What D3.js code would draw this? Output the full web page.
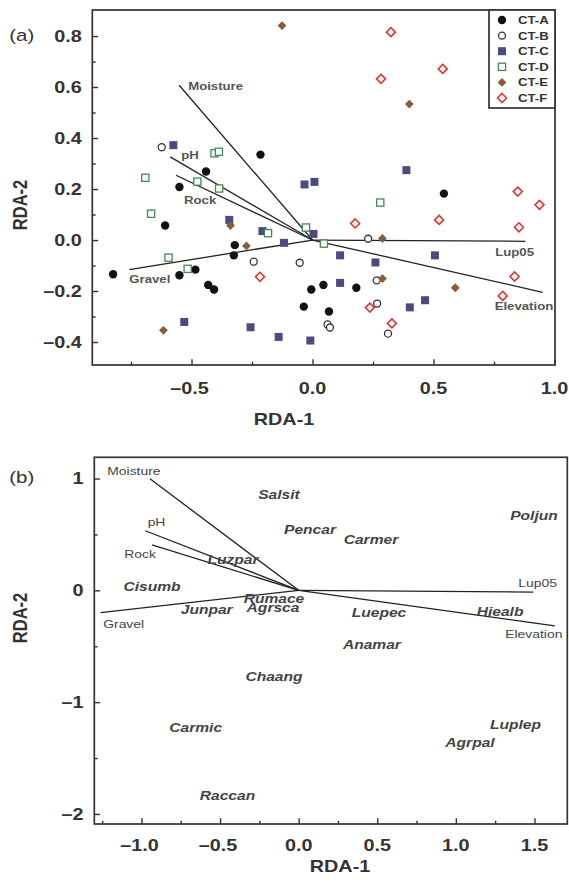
<!DOCTYPE html>
<html><head><meta charset="utf-8">
<script src="https://cdnjs.cloudflare.com/ajax/libs/d3/7.8.5/d3.min.js"></script>
<style>body{margin:0;background:#fff}svg{display:block}</style>
</head><body><svg id="c" width="569" height="887"></svg>
<script>
// ---------- DATA ----------
const groups = ["CT-A", "CT-B", "CT-C", "CT-D", "CT-E", "CT-F"];
const ctA = [[-0.215,0.335],[-0.44,0.269],[-0.55,0.208],[-0.609,0.057],[-0.321,-0.02],[-0.325,-0.06],
  [-0.824,-0.134],[-0.55,-0.138],[-0.484,-0.116],[-0.431,-0.176],[-0.407,-0.194],[-0.005,-0.194],
  [0.045,-0.176],[-0.036,-0.261],[0.068,-0.28],[0.543,0.182],[0.181,-0.187]];
const ctB = [[-0.623,0.364],[-0.243,-0.085],[-0.053,-0.089],[0.062,-0.331],[0.072,-0.343],
  [0.23,0.005],[0.265,-0.158],[0.267,-0.249],[0.312,-0.367]];
const ctC = [[-0.575,0.372],[-0.033,0.218],[0.008,0.228],[-0.344,0.079],[-0.207,0.035],[-0.118,-0.011],
  [0.004,0.024],[-0.53,-0.321],[-0.256,-0.342],[-0.14,-0.38],[-0.009,-0.394],[0.388,0.274],
  [0.114,-0.06],[0.26,-0.088],[0.506,-0.06],[0.114,-0.168],[0.402,-0.264],[0.465,-0.236]];
const ctD = [[-0.691,0.244],[-0.405,0.34],[-0.387,0.346],[-0.476,0.229],[-0.386,0.202],[-0.667,0.103],
  [-0.184,0.027],[-0.595,-0.069],[-0.516,-0.113],[-0.027,0.049],[0.047,-0.014],[0.28,0.147]];
const ctE = [[-0.126,0.841],[0.4,0.533],[-0.339,0.057],[-0.273,-0.023],[-0.616,-0.354],
  [0.289,0.006],[0.289,-0.151],[0.59,-0.187]];
const ctF = [[0.324,0.815],[0.538,0.671],[0.283,0.632],[0.848,0.19],[-0.217,-0.144],[0.938,0.138],
  [0.523,0.079],[0.176,0.065],[0.853,0.05],[0.835,-0.143],[0.786,-0.219],[0.237,-0.265],[0.328,-0.327]];

const envNames = ["Moisture", "pH", "Rock", "Gravel", "Lup05", "Elevation"];
const envA = [[-0.551,0.607],[-0.588,0.326],[-0.564,0.254],[-0.757,-0.116],[0.879,-0.005],[0.951,-0.205]];
const envB = [[-0.946,0.998],[-0.976,0.533],[-0.933,0.407],[-1.26,-0.199],[1.493,-0.016],[1.63,-0.318]];

const speciesNames = ["Salsit","Pencar","Carmer","Poljun","Luzpar","Cisumb","Junpar","Rumace","Agrsca",
  "Luepec","Hiealb","Anamar","Chaang","Carmic","Raccan","Luplep","Agrpal"];
const speciesX = [-0.125,0.072,0.46,1.497,-0.418,-0.933,-0.585,-0.157,-0.163,0.511,1.281,0.466,-0.157,-0.655,-0.453,1.379,1.09];
const speciesY = [0.861,0.548,0.458,0.667,0.279,0.034,-0.168,-0.07,-0.15,-0.195,-0.19,-0.479,-0.772,-1.228,-1.831,-1.195,-1.363];

const xTicksA = [-0.5, 0, 0.5, 1.0];
const xMinorA = [-0.75, -0.25, 0.25, 0.75];
const yTicksA = [-0.4, -0.2, 0, 0.2, 0.4, 0.6, 0.8];
const yMinorA = [-0.3, -0.1, 0.1, 0.3, 0.5, 0.7];
const xTicksB = [-1.0, -0.5, 0, 0.5, 1.0, 1.5];
const xMinorB = [-1.25, -0.75, -0.25, 0.25, 0.75, 1.25];
const yTicksB = [-2, -1, 0, 1];
const yMinorB = [-1.5, -0.5, 0.5];

// ---------- LAYOUT / STYLE ----------
const SX = 1.2; // horizontal text stretch seen in the reference
const FONT = "'Liberation Sans', Arial, Helvetica, sans-serif";
const svg = d3.select("#c");

function txt(g, x, y, s, o) {
  const fs = o.size;
  return g.append("text")
    .attr("transform", `translate(${x},${y}) scale(${SX},1)` + (o.rotate ? ` rotate(${o.rotate})` : ""))
    .attr("y", fs * 0.36)
    .attr("font-family", FONT)
    .attr("font-size", fs)
    .attr("font-weight", o.weight || "normal")
    .attr("font-style", o.style || "normal")
    .attr("fill", o.color || "#333")
    .attr("text-anchor", o.anchor || "start")
    .text(s);
}
const minus = v => (v < 0 ? "\u2013" : "") + Math.abs(v);
const fmt1 = v => (v < 0 ? "\u2013" : "") + d3.format(".1f")(Math.abs(v));
const fmt0 = v => (v < 0 ? "\u2013" : "") + d3.format("d")(Math.abs(v));

function frame(xs, ys, xT, xM, yT, yM, xFmt, yFmt, labelX, labelY, xLabBase, yLabEnd) {
  const [x0, x1] = xs.range(), [y0, y1] = ys.range();
  const g = svg.append("g");
  const axB = g.append("g").attr("transform", `translate(0,${y0})`);
  axB.append("g").call(d3.axisBottom(xs).tickValues(xT).tickSize(-5.8).tickFormat(""));
  axB.append("g").call(d3.axisBottom(xs).tickValues(xM).tickSize(-3.3).tickFormat(""));
  const axL = g.append("g").attr("transform", `translate(${x0},0)`);
  axL.append("g").call(d3.axisLeft(ys).tickValues(yT).tickSize(-5.8).tickFormat(""));
  axL.append("g").call(d3.axisLeft(ys).tickValues(yM).tickSize(-3.3).tickFormat(""));
  g.selectAll(".domain").remove();
  g.selectAll(".tick line").attr("stroke", "#333").attr("stroke-width", 1.4);
  g.append("rect").attr("x", x0).attr("y", y1).attr("width", x1 - x0).attr("height", y0 - y1)
    .attr("fill", "none").attr("stroke", "#333").attr("stroke-width", 1.7);
  xT.forEach(v => txt(g, xs(v) - (v < 0 ? 2 : 0), xLabBase, xFmt(v), {size: 16.5, weight: "bold", anchor: "middle"}));
  yT.forEach(v => txt(g, yLabEnd, ys(v), yFmt(v), {size: 16.5, weight: "bold", anchor: "end"}));
  txt(g, labelX[0], labelX[1], "RDA-1", {size: 16.5, weight: "bold", anchor: "middle"});
  txt(g, labelY[0], labelY[1], "RDA-2", {size: 16.5, weight: "bold", anchor: "middle", rotate: -90});
  return g;
}

// ---------- PANEL (a) ----------
const xa = d3.scaleLinear().domain([-0.91, 1.002]).range([92.3, 555]);
const ya = d3.scaleLinear().domain([-0.49, 0.902]).range([365, 10]);
const ga = frame(xa, ya, xTicksA, xMinorA, yTicksA, yMinorA, fmt1, fmt1, [284, 419], [19.7, 205], 388, 81.7);
txt(ga, 9.3, 35, "(a)", {size: 17, color: "#333"});

// environmental vectors (a)
const envLabA = [[9, 1, "start"], [11, -2, "start"], [8, 25, "start"], [0, 9, "start"], [-30, 11, "start"], [-48, 14, "start"]];
envA.forEach((d, i) => {
  ga.append("line").attr("x1", xa(0)).attr("y1", ya(0)).attr("x2", xa(d[0])).attr("y2", ya(d[1]))
    .attr("stroke", "#222").attr("stroke-width", 1.3);
});

// site points
const colC = "#4b4b80", colD = "#3f8a50", colE = "#8b5a3b", colF = "#e3342f";
const diamond = r => `M0,${-r}L${r},0L0,${r}L${-r},0Z`;
const pts = ga.append("g");
const symbolDraw = {
  "CT-A": (g, x, y) => g.append("circle").attr("cx", x).attr("cy", y).attr("r", 4.2).attr("fill", "#111"),
  "CT-B": (g, x, y) => g.append("circle").attr("cx", x).attr("cy", y).attr("r", 3.5).attr("fill", "#fff").attr("stroke", "#333").attr("stroke-width", 1.3),
  "CT-C": (g, x, y) => g.append("rect").attr("x", x - 4).attr("y", y - 4).attr("width", 8).attr("height", 8).attr("fill", colC),
  "CT-D": (g, x, y) => g.append("rect").attr("x", x - 3.6).attr("y", y - 3.6).attr("width", 7.2).attr("height", 7.2).attr("fill", "#fff").attr("stroke", colD).attr("stroke-width", 1.3),
  "CT-E": (g, x, y) => g.append("path").attr("d", diamond(4.4)).attr("transform", `translate(${x},${y})`).attr("fill", colE),
  "CT-F": (g, x, y) => g.append("path").attr("d", diamond(4.5)).attr("transform", `translate(${x},${y})`).attr("fill", "#fff").attr("stroke", colF).attr("stroke-width", 1.6)
};
[ctA, ctB, ctC, ctD, ctE, ctF].forEach((arr, gi) => {
  arr.forEach(d => symbolDraw[groups[gi]](pts, xa(d[0]), ya(d[1])));
});

envA.forEach((d, i) => {
  const o = envLabA[i];
  txt(ga, xa(d[0]) + o[0], ya(d[1]) + o[1], envNames[i], {size: 11, weight: "bold", color: "#555", anchor: o[2]});
});

// legend
const lg = ga.append("g");
lg.append("rect").attr("x", 489).attr("y", 10).attr("width", 66).attr("height", 98)
  .attr("fill", "#fff").attr("stroke", "#333").attr("stroke-width", 1.7);
groups.forEach((gname, i) => {
  const y = 20 + i * 15.6;
  symbolDraw[gname](lg, 502, y);
  txt(lg, 518, y, gname, {size: 11, weight: "bold", color: "#333"});
});

// ---------- PANEL (b) ----------
const xb = d3.scaleLinear().domain([-1.30, 1.709]).range([94.3, 567.3]);
const yb = d3.scaleLinear().domain([-2.09, 1.19]).range([824, 457.3]);
const gb = frame(xb, yb, xTicksB, xMinorB, yTicksB, yMinorB, fmt1, fmt0, [340, 866], [19.7, 618], 845.5, 83.5);
txt(gb, 9.3, 477, "(b)", {size: 17, color: "#333"});

const envLabB = [[-42.7, -8.3], [2.4, -9.3], [-27.7, 9], [2.6, 11.6], [-15, -9], [-49.7, 8.3]];
envB.forEach((d, i) => {
  gb.append("line").attr("x1", xb(0)).attr("y1", yb(0)).attr("x2", xb(d[0])).attr("y2", yb(d[1]))
    .attr("stroke", "#222").attr("stroke-width", 1.3);
});
envB.forEach((d, i) => {
  const o = envLabB[i];
  txt(gb, xb(d[0]) + o[0], yb(d[1]) + o[1], envNames[i], {size: 11.6, color: "#444"});
});
speciesNames.forEach((s, i) => {
  txt(gb, xb(speciesX[i]), yb(speciesY[i]), s, {size: 13, weight: "bold", style: "italic", color: "#444", anchor: "middle"});
});
</script></body></html>
